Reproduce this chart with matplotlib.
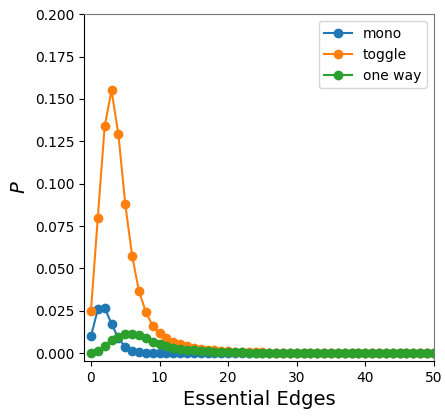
import matplotlib
matplotlib.use("Agg")
import matplotlib.pyplot as plt
import numpy as np

# essential edges 0..50
edges = np.arange(0, 51)

mono = [0.010, 0.0258, 0.0267, 0.0173, 0.0087, 0.0037, 0.0010, 0.0004, 0.0002, 0.0001,
        0.0001] + [0.0] * 40

toggle = [0.025, 0.080, 0.134, 0.155, 0.129, 0.088, 0.0574, 0.0366, 0.0242, 0.0162,
          0.0116, 0.0087, 0.0067, 0.0052, 0.0041, 0.0033, 0.0026, 0.0021, 0.0017, 0.0014,
          0.0011, 0.0009, 0.0007, 0.0006, 0.0005, 0.0004, 0.0003, 0.0003, 0.0002, 0.0002,
          0.0001, 0.0001, 0.0001, 0.0001, 0.0001] + [0.0] * 16

one_way = [0.0, 0.0014, 0.0043, 0.0077, 0.0097, 0.0110, 0.0114, 0.0105, 0.0088, 0.0068,
           0.0052, 0.0041, 0.0031, 0.0025, 0.0020, 0.0016, 0.0013, 0.0010, 0.0008, 0.0007,
           0.0006, 0.0005, 0.0004, 0.0003, 0.0003, 0.0002, 0.0002, 0.0002, 0.0001, 0.0001,
           0.0001, 0.0001, 0.0001] + [0.0] * 18

fig = plt.figure(figsize=(4.45, 4.16), dpi=100)
ax = fig.add_axes([0.189, 0.132, 0.786, 0.834])

ax.plot(edges, mono, 'o-', label='mono')
ax.plot(edges, toggle, 'o-', label='toggle')
ax.plot(edges, one_way, 'o-', label='one way')

ax.set_xlim(-1, 50)
ax.set_ylim(-0.0047, 0.2)
ax.set_yticks(np.arange(0, 0.201, 0.025))
ax.set_xlabel('Essential Edges', fontsize=14)
ax.set_ylabel('$P$', fontsize=14)
ax.spines['top'].set_color('#777777')
ax.spines['right'].set_color('#777777')
ax.legend(loc='upper right')

fig.savefig('out.png', dpi=100)
